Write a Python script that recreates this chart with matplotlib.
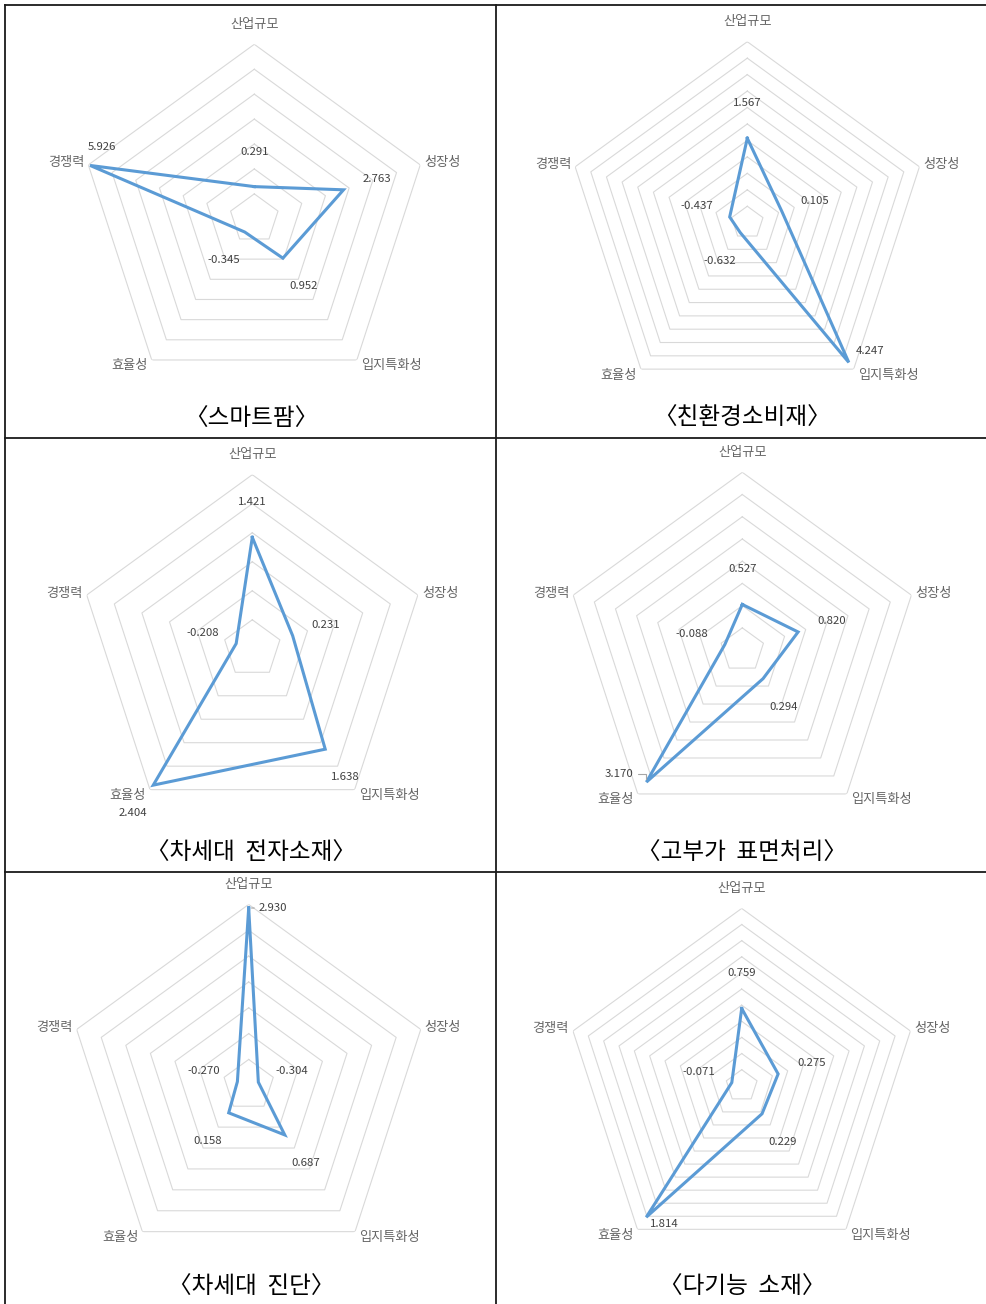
import numpy as np
import matplotlib
matplotlib.use('Agg')
import matplotlib.pyplot as plt
from matplotlib.lines import Line2D

plt.rcParams['font.family'] = ['Noto Sans CJK KR', 'DejaVu Sans']

#------------------------------------------------------------------------------
# Data
#------------------------------------------------------------------------------

categories = ['산업규모', '성장성', '입지특화성', '효율성', '경쟁력']
titles = ['〈스마트팜〉', '〈친환경소비재〉', '〈차세대  전자소재〉',
          '〈고부가  표면처리〉', '〈차세대  진단〉', '〈다기능  소재〉']

smartfarm = [0.291, 2.763, 0.952, -0.345, 5.926]
eco_goods = [1.567, 0.105, 4.247, -0.632, -0.437]
elec_material = [1.421, 0.231, 1.638, 2.404, -0.208]
surface = [0.527, 0.820, 0.294, 3.170, -0.088]
diagnosis = [2.930, -0.304, 0.687, 0.158, -0.270]
multi_material = [0.759, 0.275, 0.229, 1.814, -0.071]
series = [smartfarm, eco_goods, elec_material, surface, diagnosis, multi_material]

# axis min, max, major unit for each radar
scales = [(-1, 6, 1), (-1, 4.5, 0.5), (-0.5, 2.5, 0.5),
          (-0.5, 3.5, 0.5), (-0.5, 3.0, 0.5), (-0.2, 2.0, 0.2)]

#------------------------------------------------------------------------------
# Layout (pixels)
#------------------------------------------------------------------------------

W, H = 987, 1304
centers = [(254.3, 218.8), (747.3, 222.7), (252.3, 648.8),
           (742.3, 650.1), (248.7, 1085.3), (741.7, 1085.8)]
radii = [174.5, 181, 174.1, 177.8, 180.9, 177.4]
caption_pos = [(251, 419), (742, 418), (251, 853), (742, 853), (251, 1287), (742, 1287)]

# labels moved by hand: (chart, category) -> offset pixels, leader line
moved = {(0, 4): ((12, 18), None),
         (1, 2): ((21, 11), None),
         (3, 3): ((-27, 8), 'angle,angleA=0,angleB=90,rad=0'),
         (4, 0): ((24, 0), 'arc3'),
         (5, 3): ((18, -7), None)}

cat_offsets = [((0, 20), 'center'), ((4, 2), 'left'), ((4, -6), 'left'),
               ((-4, -6), 'right'), ((-4, 2), 'right')]

blue = '#5B9BD5'
grid_c = '#D9D9D9'

fig = plt.figure(figsize=(W / 100, H / 100), dpi=100)

theta = np.arange(len(categories)) * 2 * np.pi / len(categories)
theta_c = np.append(theta, theta[0])

for k, vals in enumerate(series):
    cx, cy = centers[k]
    R = radii[k]
    ax = fig.add_axes([(cx - R) / W, 1 - (cy + R) / H, 2 * R / W, 2 * R / H],
                      projection='polar')
    ax.set_theta_zero_location('N')
    ax.set_theta_direction(-1)
    rmin, rmax, step = scales[k]
    ax.set_ylim(rmin, rmax)
    ax.grid(False)
    ax.set_xticks([])
    ax.set_yticks([])
    ax.spines['polar'].set_visible(False)
    ax.set_facecolor('none')

    # pentagon gridlines
    n_rings = int(round((rmax - rmin) / step))
    for i in range(1, n_rings + 1):
        lvl = rmin + i * step
        ax.plot(theta_c, [lvl] * len(theta_c), color=grid_c, lw=0.8, zorder=1)

    v = np.append(vals, vals[0])
    ax.plot(theta_c, v, color=blue, lw=2.2, zorder=3, clip_on=False,
            solid_joinstyle='miter')

    # category labels
    for j, name in enumerate(categories):
        off, ha = cat_offsets[j]
        ax.annotate(name, xy=(theta[j], rmax), xytext=off, textcoords='offset pixels',
                    ha=ha, va='center', fontsize=9.5, color='#666666',
                    annotation_clip=False)

    # value labels
    for j, val in enumerate(vals):
        if (k, j) in moved:
            off, leader = moved[(k, j)]
        else:
            off = (35 * np.sin(theta[j]), 35 * np.cos(theta[j]))
            leader = None
        props = None
        if leader:
            props = dict(arrowstyle='-', color='#A6A6A6', lw=0.8, shrinkA=1,
                         shrinkB=2, connectionstyle=leader)
        ax.annotate('%.3f' % val, xy=(theta[j], val), xytext=off,
                    textcoords='offset pixels', ha='center', va='center',
                    fontsize=8.2, color='#404040', arrowprops=props,
                    annotation_clip=False)

    px, py = caption_pos[k]
    fig.text(px / W, 1 - py / H, titles[k], ha='center', va='center',
             fontsize=17, color='black')

# table borders
border = dict(color='#1a1a1a', lw=1.3)
for y in [5, 438, 872]:
    fig.add_artist(Line2D([5 / W, 1], [1 - y / H, 1 - y / H], **border))
for x in [5, 496]:
    fig.add_artist(Line2D([x / W, x / W], [1 - 5 / H, 0], **border))

fig.savefig('out.png', dpi=100)
